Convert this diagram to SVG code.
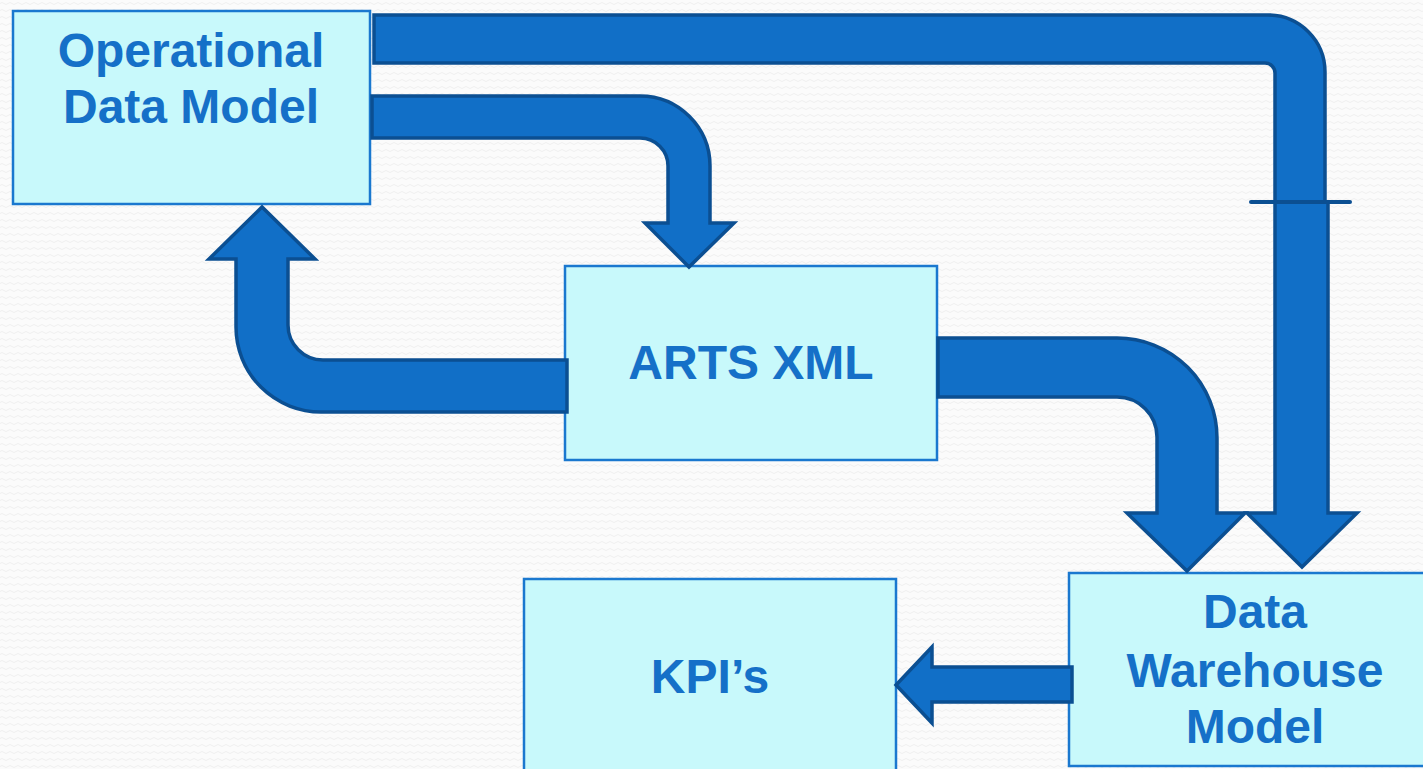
<svg xmlns="http://www.w3.org/2000/svg" width="1423" height="769" viewBox="0 0 1423 769">
  <style>
    .box { fill: #c8f9fb; stroke: #1a78cf; stroke-width: 2.5; }
    .label { font-family: "Liberation Sans", Arial, sans-serif; font-weight: bold; font-size: 48px; fill: #1570c8; text-anchor: middle; }
    .flow { fill: #116fc7; stroke: #0b4f92; stroke-width: 3.5; stroke-linejoin: miter; }
    .tick { stroke: #0b4f92; stroke-width: 4; stroke-linecap: round; }
  </style>
  <defs>
    <!-- faint wavy paper texture -->
    <pattern id="waves" width="8" height="7" patternUnits="userSpaceOnUse">
      <rect width="8" height="7" fill="#fbfbfb"/>
      <path d="M0 3.5 Q2 1.5 4 3.5 T8 3.5" fill="none" stroke="#efefef" stroke-width="1"/>
    </pattern>
  </defs>

  <rect width="1423" height="769" fill="url(#waves)"/>

  <g id="operational-data-model">
    <rect class="box" x="13" y="11" width="357" height="193"/>
    <text class="label" x="191" y="67">Operational</text>
    <text class="label" x="191" y="123">Data Model</text>
  </g>

  <g id="arts-xml">
    <rect class="box" x="565" y="266" width="372" height="194"/>
    <text class="label" x="751" y="379">ARTS XML</text>
  </g>

  <g id="kpis">
    <rect class="box" x="524" y="579" width="372" height="200"/>
    <text class="label" x="710" y="693">KPI’s</text>
  </g>

  <g id="data-warehouse-model">
    <rect class="box" x="1069" y="573" width="370" height="193"/>
    <text class="label" x="1255" y="628">Data</text>
    <text class="label" x="1255" y="687">Warehouse</text>
    <text class="label" x="1255" y="743">Model</text>
  </g>

  <!-- connectors, laid over the box borders they touch -->
  <g id="connectors">
    <!-- Operational Data Model -> Data Warehouse Model -->
    <path id="odm-to-dwh" class="flow" d="M374 15 L1268 15 A57 57 0 0 1 1325 72 L1325 202 L1328 202 L1328 513 L1357 513 L1302 567 L1247 513 L1275 513 L1275 73 A10 10 0 0 0 1265 63 L374 63 Z"/>
    <line class="tick" x1="1251" y1="202" x2="1350" y2="202"/>
    <!-- Operational Data Model -> ARTS XML -->
    <path id="odm-to-arts" class="flow" d="M372 96 L640 96 A70 70 0 0 1 710 166 L710 223 L734 223 L689 267 L645 223 L668 223 L668 166 A28 28 0 0 0 640 138 L372 138 Z"/>
    <!-- ARTS XML -> Operational Data Model -->
    <path id="arts-to-odm" class="flow" d="M567 360 L323 360 A35 35 0 0 1 288 325 L288 259 L315 259 L262 207 L209 259 L236 259 L236 327 A85 85 0 0 0 321 412 L567 412 Z"/>
    <!-- ARTS XML -> Data Warehouse Model -->
    <path id="arts-to-dwh" class="flow" d="M938 338 L1117 338 A100 100 0 0 1 1217 438 L1217 513 L1245 513 L1187 571 L1127 513 L1157 513 L1157 437 A40 40 0 0 0 1117 397 L938 397 Z"/>
    <!-- Data Warehouse Model -> KPI's -->
    <path id="dwh-to-kpi" class="flow" d="M1072 667 L932 667 L932 647 L896 685 L932 723 L932 702 L1072 702 Z"/>
  </g>
</svg>
